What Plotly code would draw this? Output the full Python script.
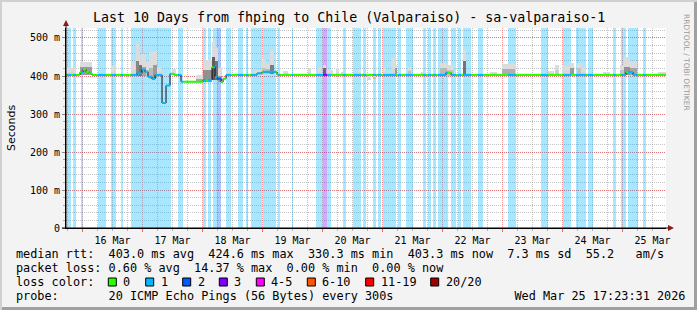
import pandas as pd
import plotly.graph_objects as go

YEAR = 2026
T_START = pd.Timestamp("2026-03-15 17:23:31")
T_END = pd.Timestamp("2026-03-25 17:23:31")


def ts(s):
    return pd.Timestamp(f"{YEAR}-{s}")


# ---------------- data ----------------
# periods with packet loss (level = number of lost pings out of 20)
loss_start = ["03-15 17:48", "03-15 20:12", "03-15 23:24", "03-16 06:12", "03-16 11:24", "03-16 15:24",
              "03-16 19:24", "03-17 14:12", "03-18 00:12", "03-18 02:12", "03-18 04:12", "03-18 05:48",
              "03-18 09:24", "03-18 14:12", "03-18 17:24", "03-18 19:24", "03-19 00:12", "03-19 06:12",
              "03-19 11:48", "03-19 21:24", "03-20 00:12", "03-20 01:48", "03-20 08:12", "03-20 12:12",
              "03-20 16:12", "03-20 20:12", "03-20 22:12", "03-21 00:12", "03-21 06:12", "03-21 09:24",
              "03-21 16:12", "03-21 18:12", "03-21 20:12", "03-21 22:12", "03-22 03:24", "03-22 06:12",
              "03-22 08:12", "03-22 14:12", "03-23 02:12", "03-23 15:24", "03-24 00:12", "03-24 05:24",
              "03-24 10:12", "03-24 20:12", "03-24 23:24", "03-25 02:12", "03-25 08:12"]
loss_end = ["03-15 19:24", "03-15 21:24", "03-16 00:12", "03-16 09:24", "03-16 13:24", "03-16 16:12",
            "03-17 11:24", "03-17 16:12", "03-18 01:24", "03-18 03:24", "03-18 05:48", "03-18 07:24",
            "03-18 11:24", "03-18 16:12", "03-18 18:12", "03-18 23:48", "03-19 05:24", "03-19 07:00",
            "03-19 12:12", "03-20 00:12", "03-20 01:48", "03-20 03:24", "03-20 09:24", "03-20 15:24",
            "03-20 17:24", "03-20 21:24", "03-20 23:24", "03-21 05:24", "03-21 07:24", "03-21 12:12",
            "03-21 17:24", "03-21 19:24", "03-21 21:24", "03-22 02:12", "03-22 05:24", "03-22 07:24",
            "03-22 11:24", "03-22 16:12", "03-23 05:24", "03-23 18:12", "03-24 03:24", "03-24 09:24",
            "03-24 12:12", "03-24 21:24", "03-25 01:24", "03-25 06:12", "03-25 09:24"]
loss_level = [1, 1, 1, 1, 1, 1, 1, 1, 1, 1, 1, 2, 1, 1, 1, 1, 1, 1, 1, 1, 3, 1, 1, 1,
              1, 1, 1, 1, 1, 1, 1, 1, 1, 1, 1, 1, 1, 1, 1, 1, 1, 1, 1, 1, 1, 1, 1]

# median rtt (ms), step changes
median_time = ["03-15 17:23", "03-15 23:00", "03-16 00:12", "03-16 01:24", "03-16 02:36", "03-16 03:48",
               "03-16 21:48", "03-16 23:48", "03-17 01:00", "03-17 02:12", "03-17 03:48", "03-17 05:00",
               "03-17 07:48", "03-17 09:24", "03-17 11:00", "03-17 12:36", "03-17 15:24", "03-18 00:12",
               "03-18 03:48", "03-18 05:00", "03-18 05:48", "03-18 07:24", "03-18 08:12", "03-18 09:24",
               "03-18 21:48", "03-18 23:48", "03-19 05:48", "03-22 01:24", "03-22 03:24", "03-25 01:24",
               "03-25 04:12"]
median_ms = [403, 410, 417, 411, 407, 403, 407, 417, 411, 398, 392, 403, 329, 375, 406, 403, 385, 389,
             423, 397, 393, 384, 393, 403, 407, 411, 403, 409, 403, 410, 403]

# smoke (spread of individual pings)
smoke_start = ["03-15 17:48", "03-15 23:00", "03-16 11:24", "03-16 19:24", "03-16 21:12", "03-16 22:24",
               "03-16 23:48", "03-17 01:24", "03-17 02:36", "03-17 04:12", "03-17 05:48", "03-17 11:48",
               "03-17 21:24", "03-18 00:12", "03-18 03:36", "03-18 05:00", "03-18 06:12", "03-18 09:24",
               "03-18 20:36", "03-18 23:48", "03-19 01:24", "03-19 03:00", "03-19 08:12", "03-19 18:12",
               "03-19 22:12", "03-20 00:00", "03-20 02:12", "03-20 05:24", "03-20 07:24", "03-20 14:12",
               "03-20 17:48", "03-20 20:12", "03-21 00:12", "03-21 03:24", "03-21 04:48", "03-21 10:12",
               "03-21 15:24", "03-21 23:00", "03-22 01:36", "03-22 08:00", "03-22 19:00", "03-22 23:48",
               "03-23 18:12", "03-23 21:00", "03-23 23:48", "03-24 03:00", "03-24 05:36", "03-24 07:24",
               "03-24 16:00", "03-24 23:00", "03-25 00:36", "03-25 03:00", "03-25 14:12"]
smoke_end = ["03-15 21:24", "03-16 03:48", "03-16 13:24", "03-16 21:00", "03-16 22:24", "03-16 23:48",
             "03-17 01:24", "03-17 02:36", "03-17 04:12", "03-17 05:48", "03-17 07:24", "03-17 13:24",
             "03-18 00:12", "03-18 03:36", "03-18 05:00", "03-18 06:12", "03-18 07:48", "03-18 10:36",
             "03-18 23:48", "03-19 01:24", "03-19 03:00", "03-19 04:36", "03-19 10:12", "03-19 19:24",
             "03-19 23:24", "03-20 01:24", "03-20 04:12", "03-20 06:24", "03-20 08:12", "03-20 15:24",
             "03-20 19:24", "03-20 21:24", "03-21 01:24", "03-21 04:48", "03-21 05:36", "03-21 11:24",
             "03-21 16:12", "03-22 01:36", "03-22 04:24", "03-22 09:24", "03-22 21:48", "03-23 05:00",
             "03-23 20:36", "03-23 22:24", "03-24 03:00", "03-24 04:24", "03-24 07:24", "03-24 09:24",
             "03-24 18:48", "03-25 00:36", "03-25 03:00", "03-25 05:36", "03-25 17:23"]
smoke_low = [403, 403, 403, 403, 400, 400, 400, 398, 392, 395, 400, 403, 385, 385, 390, 390, 385, 403,
             403, 405, 405, 405, 403, 403, 403, 403, 403, 403, 403, 403, 389, 394, 403, 403, 403, 403,
             403, 400, 400, 403, 403, 403, 403, 403, 403, 403, 403, 403, 403, 403, 403, 403, 403]
smoke_high = [421, 438, 428, 440, 485, 456, 457, 440, 462, 465, 420, 418, 402, 443, 490, 474, 420, 412,
              415, 441, 432, 468, 413, 421, 420, 428, 415, 420, 411, 418, 403, 403, 421, 447, 430, 424,
              410, 434, 428, 470, 411, 432, 412, 428, 426, 434, 435, 420, 410, 430, 451, 440, 410]
smoke_core = [410, 425, 410, 415, 440, 430, 425, 415, 420, 430, 410, 408, 392, 415, 450, 440, 400, 407,
              408, 420, 418, 430, 407, 410, 410, 420, 408, 410, 407, 410, 395, 398, 410, 420, 420, 412,
              406, 420, 415, 440, 407, 418, 407, 415, 412, 422, 420, 410, 406, 415, 425, 420, 406]
smoke_gray = [200, 110, 190, 170, 90, 70, 120, 150, 140, 110, 180, 180, 120, 100, 50, 70, 110, 190,
              190, 150, 140, 80, 180, 170, 170, 60, 180, 170, 190, 170, 170, 150, 190, 170, 110, 150,
              180, 140, 150, 70, 200, 130, 200, 160, 170, 110, 150, 170, 200, 150, 100, 120, 200]

y_ticks = [0, 100, 200, 300, 400, 500]
y_tick_text = ["0", "100 m", "200 m", "300 m", "400 m", "500 m"]

loss_colors = {0: "#26ff00", 1: "#00b8ff", 2: "#0059ff", 3: "#7e00ff"}
legend_loss_labels = ["0", "1", "2", "3", "4-5", "6-10", "11-19", "20/20"]
legend_loss_colors = ["#26ff00", "#00b8ff", "#0059ff", "#7e00ff", "#ff00ff", "#ff5500", "#ff0000", "#a10000"]

rtt_stats = ["403.0 ms avg", "424.6 ms max", "330.3 ms min", "403.3 ms now", "7.3 ms sd", "55.2", "am/s"]
loss_stats = ["0.60 % avg", "14.37 % max", "0.00 % min", "0.00 % now"]
probe_text = "20 ICMP Echo Pings (56 Bytes) every 300s"
stamp_text = "Wed Mar 25 17:23:31 2026"
title_text = "Last 10 Days from fhping to Chile (Valparaiso) - sa-valparaiso-1"

# ---------------- geometry ----------------
W, H = 697, 310
PL, PR, PT, PB = 66, 666, 28, 228
Y_TOP = 526.3
MONO = "DejaVu Sans Mono"


def xp(px):
    return (px - PL) / (PR - PL)


def yp(py):
    return (PB - py) / (PB - PT)


def hexrgba(h, a):
    h = h.lstrip("#")
    return f"rgba({int(h[0:2], 16)},{int(h[2:4], 16)},{int(h[4:6], 16)},{a})"


fig = go.Figure()

# loss background bars
ls = [ts(s) for s in loss_start]
le = [ts(s) for s in loss_end]
fig.add_trace(go.Bar(
    x=[a + (b - a) / 2 for a, b in zip(ls, le)],
    y=[Y_TOP] * len(ls), base=0,
    width=[(b - a).total_seconds() * 1000 for a, b in zip(ls, le)],
    marker=dict(color=[hexrgba(loss_colors[l], 0.34) for l in loss_level], line=dict(width=0)),
    hoverinfo="skip", showlegend=False))

# smoke
ss = [ts(s) for s in smoke_start]
se = [ts(s) for s in smoke_end]
sx = [a + (b - a) / 2 for a, b in zip(ss, se)]
sw = [(b - a).total_seconds() * 1000 for a, b in zip(ss, se)]
fig.add_trace(go.Bar(
    x=sx, base=smoke_low, y=[h - l for h, l in zip(smoke_high, smoke_low)], width=sw,
    marker=dict(color="#dcdcdc", line=dict(width=0)), hoverinfo="skip", showlegend=False))
fig.add_trace(go.Bar(
    x=sx, base=[min(l, c) for l, c in zip(smoke_low, smoke_core)],
    y=[abs(c - l) for l, c in zip(smoke_low, smoke_core)], width=sw,
    marker=dict(color=[f"rgb({min(215, g + 45)},{min(215, g + 45)},{min(215, g + 45)})" for g in smoke_gray],
                line=dict(width=0)),
    hoverinfo="skip", showlegend=False))

# median: black step line
mt = [ts(s) for s in median_time]
fig.add_trace(go.Scatter(
    x=mt + [T_END], y=median_ms + [median_ms[-1]], mode="lines",
    line=dict(color="#101010", width=1, shape="hv"), hoverinfo="skip", showlegend=False))


def median_segments(a, b):
    out = []
    for i, s in enumerate(mt):
        e = mt[i + 1] if i + 1 < len(mt) else T_END
        lo, hi = max(s, a), min(e, b)
        if lo < hi:
            out.append((lo, hi, median_ms[i]))
    return out


intervals = {lvl: [] for lvl in loss_colors}
for a, b, l in zip(ls, le, loss_level):
    intervals[l].append((a, b))
order = sorted(zip(ls, le))
cur = T_START
for a, b in order:
    if a > cur:
        intervals[0].append((cur, a))
    cur = max(cur, b)
if cur < T_END:
    intervals[0].append((cur, T_END))

for lvl, ivs in intervals.items():
    xs, ys = [], []
    for a, b in ivs:
        for t0, t1, v in median_segments(a, b):
            xs += [t0, t1, None]
            ys += [v, v, None]
    if xs:
        fig.add_trace(go.Scatter(x=xs, y=ys, mode="lines", line=dict(color=loss_colors[lvl], width=2),
                                 hoverinfo="skip", showlegend=False, connectgaps=False))

# ---------------- layout ----------------
grid_dash = "1px,1px"
fig.update_layout(
    width=W, height=H, margin=dict(l=PL, r=W - PR, t=PT, b=H - PB),
    paper_bgcolor="#f3f3f3", plot_bgcolor="#ffffff", barmode="overlay", bargap=0,
    showlegend=False, font=dict(family=MONO, size=10, color="#000000"),
    xaxis=dict(type="date", range=[T_START, T_END], tick0="2026-03-16", dtick=86400000,
               ticklabelmode="period", tickformat="%d %b", showgrid=True,
               gridcolor="rgba(255,0,0,0.4)", griddash=grid_dash, gridwidth=1,
               ticks="outside", ticklen=3, tickcolor="rgba(255,0,0,0.6)",
               showline=True, linecolor="#000000", linewidth=1,
               tickfont=dict(family=MONO, size=10, color="#000000"),
               minor=dict(dtick=6 * 3600 * 1000, tick0="2026-03-16", showgrid=True,
                          gridcolor="rgba(140,140,140,0.5)", griddash=grid_dash,
                          ticks="outside", ticklen=2, tickcolor="rgba(140,140,140,0.6)")),
    yaxis=dict(range=[0, Y_TOP], tickmode="array", tickvals=y_ticks, ticktext=y_tick_text,
               showgrid=True, gridcolor="rgba(255,0,0,0.4)", griddash=grid_dash, zeroline=False,
               ticks="outside", ticklen=3, tickcolor="#888888",
               showline=True, linecolor="#000000", linewidth=1,
               tickfont=dict(family=MONO, size=10, color="#000000"),
               minor=dict(dtick=20, showgrid=True, gridcolor="rgba(140,140,140,0.5)", griddash=grid_dash,
                          ticks="outside", ticklen=2, tickcolor="#aaaaaa")),
)

ann = []
shapes = []
LEG_SIZE = 11.83


def text(px, py, s, size=LEG_SIZE, anchor="left", family=MONO, color="#000000", angle=0):
    ann.append(dict(x=xp(px), y=yp(py), xref="paper", yref="paper", text=s, showarrow=False,
                    xanchor=anchor, yanchor="middle", borderpad=0, borderwidth=0, textangle=angle,
                    font=dict(family=family, size=size, color=color)))


def mono(parts, gaps):
    s = parts[0]
    for g, p in zip(gaps, parts[1:]):
        s += " " * g + p
    return s.replace(" ", "&nbsp;")


text(348.5, 18, title_text, size=13.3, anchor="center")
text(11, 128, "Seconds", size=11, anchor="center", family="DejaVu Sans", angle=-90)
text(687, 62, "RRDTOOL / TOBI OETIKER", size=7.5, anchor="center", family="DejaVu Sans",
     color="#9a9a9a", angle=90)

# legend rows
row_y = [254, 268, 282, 296]
LX = 15.5
text(LX, row_y[0], mono(["median rtt:"] + rtt_stats, [2, 2, 2, 2, 2, 2, 3]))
text(LX, row_y[1], mono(["packet loss:"] + loss_stats, [1, 2, 2, 2]))
text(LX, row_y[2], "loss color:")
box_x = [108.3, 145.7, 182.7, 219.3, 256.3, 307.3, 365.7, 430.7]
for bx, lab, col in zip(box_x, legend_loss_labels, legend_loss_colors):
    shapes.append(dict(type="rect", xref="paper", yref="paper", x0=xp(bx), x1=xp(bx + 8),
                       y0=yp(row_y[2] + 4), y1=yp(row_y[2] - 4), fillcolor=col,
                       line=dict(color="#000000", width=1)))
    text(bx + 15, row_y[2], lab)
text(LX, row_y[3], mono(["probe:", probe_text, stamp_text], [7, 17]))

# axis extensions and arrows
arrow = "#8b1a1a"
shapes.append(dict(type="line", xref="paper", yref="paper", x0=xp(66), x1=xp(66), y0=yp(228), y1=yp(22),
                   line=dict(color="#000000", width=1)))
shapes.append(dict(type="line", xref="paper", yref="paper", x0=xp(62), x1=xp(670), y0=yp(228), y1=yp(228),
                   line=dict(color="#000000", width=1)))
shapes.append(dict(type="path", xref="paper", yref="paper",
                   path=f"M {xp(63)} {yp(26)} L {xp(69)} {yp(26)} L {xp(66)} {yp(20)} Z",
                   fillcolor=arrow, line=dict(width=0)))
shapes.append(dict(type="path", xref="paper", yref="paper",
                   path=f"M {xp(668)} {yp(225)} L {xp(668)} {yp(231)} L {xp(674)} {yp(228)} Z",
                   fillcolor=arrow, line=dict(width=0)))
# frame shading
shapes.append(dict(type="rect", xref="paper", yref="paper", x0=xp(694), x1=xp(697), y0=yp(310), y1=yp(0),
                   fillcolor="#a0a0a0", line=dict(width=0)))
shapes.append(dict(type="rect", xref="paper", yref="paper", x0=xp(0), x1=xp(697), y0=yp(310), y1=yp(307),
                   fillcolor="#a0a0a0", line=dict(width=0)))
shapes.append(dict(type="rect", xref="paper", yref="paper", x0=xp(0), x1=xp(2), y0=yp(310), y1=yp(0),
                   fillcolor="#d0d0d0", line=dict(width=0)))
shapes.append(dict(type="rect", xref="paper", yref="paper", x0=xp(0), x1=xp(697), y0=yp(2), y1=yp(0),
                   fillcolor="#d0d0d0", line=dict(width=0)))

fig.update_layout(annotations=ann, shapes=shapes)
fig.write_html("out.html")
